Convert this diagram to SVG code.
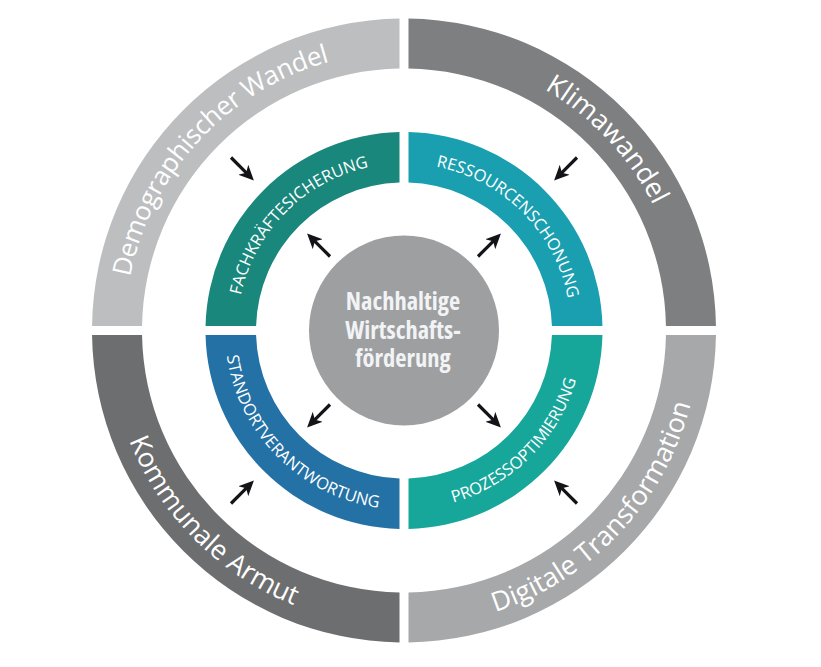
<svg xmlns="http://www.w3.org/2000/svg" width="821" height="667" viewBox="0 0 821 667">
<style>
.ot{font-family:"Open Sans","Noto Sans",sans-serif;font-size:27px;fill:#ffffff;}
.it{font-family:"Open Sans","Noto Sans",sans-serif;font-size:16.5px;font-weight:500;fill:#ffffff;}
.ct{font-family:"Open Sans","Noto Sans",sans-serif;font-size:24.5px;font-weight:bold;fill:#f2f3f5;font-stretch:80%;text-anchor:middle;}
.arr{stroke:#141418;stroke-width:3.2;fill:none;marker-end:url(#ah);}
</style>
<defs>
<marker id="ah" viewBox="0 0 15 14" refX="5" refY="7" markerWidth="15" markerHeight="14" markerUnits="userSpaceOnUse" orient="auto">
<path d="M0,0 L15,7 L0,14 L4,7 Z" fill="#141418"/>
</marker>
<path id="pOTL" d="M125,330.5 A279,279 0 0 1 404,51.5"/>
<path id="pOTR" d="M404,51.5 A279,279 0 0 1 683,330.5"/>
<path id="pOBL" d="M108,330.5 A296,296 0 0 0 404,626.5"/>
<path id="pOBR" d="M404,626.5 A296,296 0 0 0 700,330.5"/>
<path id="pITL" d="M237,330.5 A167,167 0 0 1 404,163.5"/>
<path id="pITR" d="M404,163.5 A167,167 0 0 1 571,330.5"/>
<path id="pIBL" d="M225,330.5 A179,179 0 0 0 404,509.5"/>
<path id="pIBR" d="M404,509.5 A179,179 0 0 0 583,330.5"/>
</defs>
<rect width="821" height="667" fill="#ffffff"/>
<g id="demographischer-wandel">
<path d="M399.5,18.53 A312,312 0 0 0 92.03,326 L142.04,326 A262,262 0 0 1 399.5,68.54 Z" fill="#bdbec0"/>
<text class="ot" style="font-size:26px;letter-spacing:-0.3px"><textPath href="#pOTL" startOffset="47.5%" text-anchor="middle">Demographischer Wandel</textPath></text>
</g>
<g id="klimawandel">
<path d="M408.5,18.53 A312,312 0 0 1 715.97,326 L665.96,326 A262,262 0 0 0 408.5,68.54 Z" fill="#7e7f81"/>
<text class="ot"><textPath href="#pOTR" startOffset="52%" text-anchor="middle">Klimawandel</textPath></text>
</g>
<g id="kommunale-armut">
<path d="M399.5,642.47 A312,312 0 0 1 92.03,335 L142.04,335 A262,262 0 0 0 399.5,592.46 Z" fill="#6d6e70"/>
<text class="ot"><textPath href="#pOBL" startOffset="50%" text-anchor="middle">Kommunale Armut</textPath></text>
</g>
<g id="digitale-transformation">
<path d="M408.5,642.47 A312,312 0 0 0 715.97,335 L665.96,335 A262,262 0 0 1 408.5,592.46 Z" fill="#a7a8aa"/>
<text class="ot"><textPath href="#pOBR" startOffset="52%" text-anchor="middle">Digitale Transformation</textPath></text>
</g>
<g id="fachkraeftesicherung">
<path d="M399.5,132.05 A198.5,198.5 0 0 0 205.55,326 L256.07,326 A148,148 0 0 1 399.5,182.57 Z" fill="#1a877c"/>
<text class="it"><textPath href="#pITL" startOffset="50%" text-anchor="middle">FACHKRÄFTESICHERUNG</textPath></text>
</g>
<g id="ressourcenschonung">
<path d="M408.5,132.05 A198.5,198.5 0 0 1 602.45,326 L551.93,326 A148,148 0 0 0 408.5,182.57 Z" fill="#1a9fb0"/>
<text class="it"><textPath href="#pITR" startOffset="50%" text-anchor="middle">RESSOURCENSCHONUNG</textPath></text>
</g>
<g id="standortverantwortung">
<path d="M399.5,528.95 A198.5,198.5 0 0 1 205.55,335 L256.07,335 A148,148 0 0 0 399.5,478.43 Z" fill="#2471a6"/>
<text class="it"><textPath href="#pIBL" startOffset="50%" text-anchor="middle">STANDORTVERANTWORTUNG</textPath></text>
</g>
<g id="prozessoptimierung">
<path d="M408.5,528.95 A198.5,198.5 0 0 0 602.45,335 L551.93,335 A148,148 0 0 1 408.5,478.43 Z" fill="#17a69a"/>
<text class="it"><textPath href="#pIBR" startOffset="50%" text-anchor="middle">PROZESSOPTIMIERUNG</textPath></text>
</g>
<g id="nachhaltige-wirtschaftsfoerderung">
<circle cx="404" cy="330.5" r="95" fill="#9d9fa1"/>
<text class="ct" x="403" y="310">Nachhaltige</text>
<text class="ct" x="403" y="338.5">Wirtschafts-</text>
<text class="ct" x="403" y="367">förderung</text>
</g>
<g id="connectors">
<line class="arr" x1="231" y1="157.5" x2="246.84" y2="173.34"/>
<line class="arr" x1="577" y1="157.5" x2="561.16" y2="173.34"/>
<line class="arr" x1="231" y1="503.5" x2="246.84" y2="487.66"/>
<line class="arr" x1="577" y1="503.5" x2="561.16" y2="487.66"/>
<line class="arr" x1="330" y1="256.5" x2="314.16" y2="240.66"/>
<line class="arr" x1="478" y1="256.5" x2="493.84" y2="240.66"/>
<line class="arr" x1="330" y1="404.5" x2="314.16" y2="420.34"/>
<line class="arr" x1="478" y1="404.5" x2="493.84" y2="420.34"/>
</g>
</svg>
